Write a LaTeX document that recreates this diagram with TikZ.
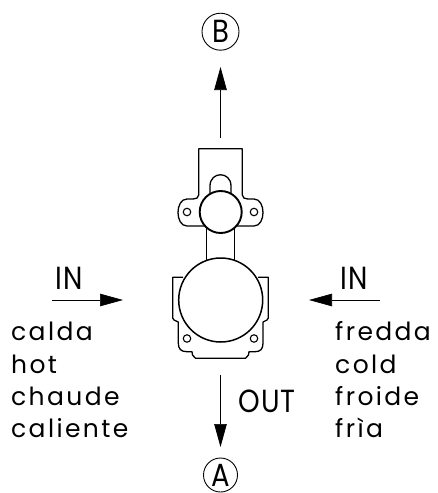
\documentclass[tikz,border=0pt]{standalone}
\usepackage{fontspec}
\usetikzlibrary{arrows.meta}
\newfontfamily\lblfont[LetterSpace=9.5]{Poppins}
\newfontfamily\capfont[FakeStretch=0.86,LetterSpace=3]{Poppins}
\tikzset{
  body/.style={line width=1.3pt,line join=round,fill=white},
  ball/.style={line width=1.9pt,fill=white},
  hole/.style={circle,draw,line width=1.1pt,minimum size=7.5pt,inner sep=0pt},
  flow/.style={line width=0.7pt,-{Triangle[length=23pt,width=12.5pt]}},
  lbl/.style={anchor=base west,inner sep=0pt,font=\lblfont\fontsize{25}{25}\selectfont},
  capl/.style={anchor=base,inner sep=0pt,font=\capfont\fontsize{32}{32}\selectfont},
  port/.style={circle,draw,line width=0.9pt,inner sep=0pt,font=\capfont\fontsize{32}{32}\selectfont}
}
\begin{document}
\begin{tikzpicture}[x=1pt,y=-1pt]
\useasboundingbox (0,0) rectangle (438,493);
% top plate with ears
\draw[body] (198.7,195) -- (198.7,148.7) -- (242.3,148.7) -- (242.3,195)
  .. controls (242.3,198) and (245,199) .. (248,199)
  -- (254,199) .. controls (266,199) and (266,226) .. (254,226) -- (236,226)
  -- (205,226) -- (187,226) .. controls (175,226) and (175,199) .. (187,199)
  -- (193,199) .. controls (196,199) and (198.7,198) .. (198.7,195) -- cycle;
% arch
\draw[body] (210,195) -- (210,186) .. controls (210,171) and (231,171) .. (231,186) -- (231,195);
% neck
\draw[body] (206.7,225) rectangle (234.3,262);
% lower body
\draw[body] (183,277.3) -- (172.7,277.3) -- (172.7,318) -- (174,320) -- (178.3,322)
  -- (178.3,343) .. controls (178.3,349) and (181,351.7) .. (187,351.7)
  -- (192,351.7) -- (192.5,355) -- (195.5,358.3) -- (245.5,358.3) -- (248.5,355) -- (249,351.7)
  -- (255,351.7) .. controls (260.5,351.7) and (263,349) .. (263,343)
  -- (263,322) -- (267,320) -- (268.3,318) -- (268.3,277.3) -- (258,277.3);
% main circles
\node[circle,draw,line width=1.5pt,fill=white,minimum size=84pt,inner sep=0pt] (main) at (220.7,300) {};
\node[circle,ball,draw,minimum size=42pt,inner sep=0pt] (valve) at (220.7,212) {};
% holes
\node[hole] (h1) at (187,212) {};
\node[hole] (h2) at (254,212) {};
\node[hole] (h3) at (187,338.5) {};
\node[hole] (h4) at (254,338.5) {};
% ports
\node[port,minimum size=37pt] (B) at (220.5,31.7) {B};
\node[port,minimum size=34pt] (A) at (220.5,475) {A};
% arrow ends
\coordinate (bs) at (220.5,138);
\coordinate (bt) at (220.5,67);
\coordinate (as) at (220.5,375);
\coordinate (at') at (220.5,447);
\coordinate (ls) at (52,300);
\coordinate (lt) at (123,300);
\coordinate (rs) at (380,300);
\coordinate (rt) at (309,300);
\draw[flow] (bs) -- (bt);
\draw[flow] (as) -- (at');
\draw[flow] (ls) -- (lt);
\draw[flow] (rs) -- (rt);
% labels
\node[capl] (inl) at (69,289) {IN};
\node[capl] (inr) at (354,289) {IN};
\node[capl] (out) at (267,412) {OUT};
\node[lbl] (l1) at (11,340) {calda};
\node[lbl] (l2) at (11,373) {hot};
\node[lbl] (l3) at (11,405) {chaude};
\node[lbl] (l4) at (11,437) {caliente};
\node[lbl] (r1) at (335,340) {fredda};
\node[lbl] (r2) at (335,373) {cold};
\node[lbl] (r3) at (335,405) {froide};
\node[lbl] (r4) at (335,437) {frìa};
\end{tikzpicture}
\end{document}
